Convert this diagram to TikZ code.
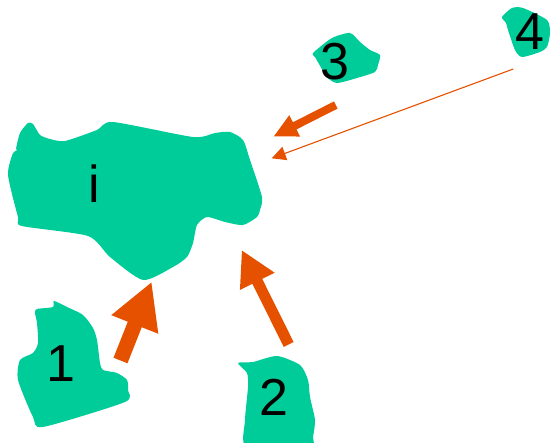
\documentclass[tikz,border=0pt]{standalone}
\usepackage{fontspec}
\setmainfont{Liberation Sans}
\usetikzlibrary{arrows.meta}
\definecolor{blobgreen}{RGB}{0,204,153}
\definecolor{flow}{RGB}{230,81,0}
\tikzset{
  blob/.style={fill=blobgreen, draw=none},
  lbl/.style={inner sep=0pt, font=\fontsize{52}{60}\selectfont},
  bigarrow/.style={draw=flow, line cap=butt},
}
\begin{document}
\begin{tikzpicture}[x=1pt,y=-1pt]
\clip (0,0) rectangle (552,443);
\fill[white] (0,0) rectangle (552,443);

% regions
\fill[blob] plot[smooth cycle, tension=0.4] coordinates {
  (20,133) (28,123) (33,124) (40,135) (50,139) (65,141) (97,130) (113,122)
  (193,137) (215,133) (230,132) (243,140) (250,160) (262,197) (260,210)
  (257,217) (243,225) (225,222) (207,217) (197,225) (193,243) (187,257)
  (173,267) (143,280) (110,257) (88,236) (22,226) (18,217) (8,175)
  (13,153) (18,150) (16,149)};
\fill[blob] plot[smooth cycle, tension=0.4] coordinates {
  (54,301) (67,307) (83,315) (93,328) (97,340) (100,363) (103,370) (117,373)
  (127,380) (128,390) (125,402) (43,427) (33,417) (18,380) (20,360)
  (33,353) (38,343) (37,323) (35,313) (37,309) (53,307)};
\fill[blob] plot[smooth cycle, tension=0.4] coordinates {
  (238,363) (253,362) (277,356) (300,365) (308,380) (310,397) (315,420)
  (313,437) (310,448) (247,448) (245,420) (248,387) (247,373)};
\fill[blob] plot[smooth cycle, tension=0.4] coordinates {
  (313,53) (332,38) (350,33) (360,42) (370,50) (380,55) (378,65) (375,72)
  (357,78) (337,83) (327,77) (315,57)};
\fill[blob] plot[smooth cycle, tension=0.4] coordinates {
  (502,17) (512,8) (523,8) (547,20) (550,33) (547,47) (540,52) (522,57)
  (515,50) (508,30) (506,23)};

% labels
\node[lbl] (ni) at (94,184) {i};
\node[lbl] (n1) at (61,364) {1};
\node[lbl] (n2) at (274,397) {2};
\node[lbl] (n3) at (335,62) {3};
\node[lbl] (n4) at (530,32) {4};

% arrow ends
\coordinate (t1) at (120.5,360.5);
\coordinate (h1) at (151.7,281.7);
\coordinate (t2) at (288.7,344.5);
\coordinate (h2) at (241.7,250);
\coordinate (t3) at (335.8,105);
\coordinate (h3) at (273.3,136.7);
\coordinate (t4) at (513.3,69);
\coordinate (h4) at (271.7,158.3);

% flows
\draw[bigarrow, line width=15pt, -{Triangle[width=47pt,length=46pt]}] (t1) -- (h1);
\draw[bigarrow, line width=11pt, -{Triangle[width=36pt,length=35pt]}] (t2) -- (h2);
\draw[bigarrow, line width=8pt, -{Triangle[width=22pt,length=24pt]}] (t3) -- (h3);
\draw[draw=flow, line width=1.1pt, -{Triangle[width=14pt,length=14pt]}] (t4) -- (h4);
\end{tikzpicture}
\end{document}
